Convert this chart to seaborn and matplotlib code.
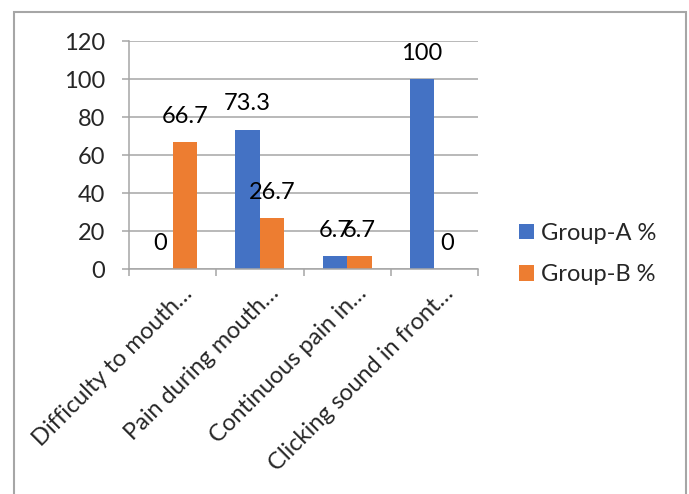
import matplotlib
matplotlib.use("Agg")
import matplotlib.pyplot as plt
import matplotlib.transforms as mtransforms
from matplotlib.patches import Rectangle
import seaborn as sns
import pandas as pd

categories = ["Difficulty to mouth\u2026", "Pain during mouth\u2026",
              "Continuous pain in\u2026", "Clicking sound in front\u2026"]
series_names = ["Group-A %", "Group-B %"]
group_a = [0, 73.3, 6.7, 100]
group_b = [66.7, 26.7, 6.7, 0]
y_ticks = [0, 20, 40, 60, 80, 100, 120]
colors = ["#4472C4", "#ED7D31"]

df = pd.DataFrame({
    "category": categories * 2,
    "value": group_a + group_b,
    "series": [series_names[0]] * 4 + [series_names[1]] * 4,
})

sns.set_style("white")
plt.rcParams["font.family"] = ["Lato", "DejaVu Sans"]
FS = 17
grid_c = "#A6A6A6"

W, H = 689, 494
fig = plt.figure(figsize=(W / 100, H / 100), dpi=100)
ax = fig.add_axes([129 / W, 1 - 269 / H, (478 - 129) / W, (269 - 41) / H])

sns.barplot(data=df, x="category", y="value", hue="series", order=categories,
            hue_order=series_names, palette=colors, width=0.563, gap=0,
            saturation=1, ax=ax, legend=True, linewidth=0)

ax.set_xlim(-0.5, 3.5)
ax.set_ylim(0, 120)
ax.set_yticks(y_ticks)
ax.set_yticklabels([str(t) for t in y_ticks], fontsize=FS)
ax.yaxis.grid(True, color=grid_c, linewidth=1.1)
ax.set_axisbelow(True)
ax.set_xlabel("")
ax.set_ylabel("")

for s in ["top", "right"]:
    ax.spines[s].set_visible(False)
for s in ["left", "bottom"]:
    ax.spines[s].set_color(grid_c)
    ax.spines[s].set_linewidth(1.1)

ax.tick_params(axis="y", length=5, width=1.1, color=grid_c, pad=12, left=True)
ax.set_xticks(range(len(categories)))
ax.set_xticks([-0.5, 0.5, 1.5, 2.5, 3.5], minor=True)
ax.tick_params(axis="x", which="minor", length=5, width=1.1, color=grid_c, bottom=True)
ax.tick_params(axis="x", which="major", length=0, pad=15)
offset = mtransforms.ScaledTranslation(16 / 100, 0, fig.dpi_scale_trans)
ax.set_xticklabels(categories, fontsize=FS, rotation=45, ha="right",
                   va="center", rotation_mode="anchor")
for lab in ax.get_xticklabels():
    lab.set_transform(lab.get_transform() + offset)

for cont in ax.containers:
    ax.bar_label(cont, labels=[f"{v:g}" for v in cont.datavalues],
                 padding=11, fontsize=FS, color="#000000")

handles, labels = ax.get_legend_handles_labels()
ax.legend_.remove()
fig.legend(handles, labels, loc="center left",
           bbox_to_anchor=(519 / W, 1 - 254 / H), frameon=False,
           fontsize=FS, handlelength=0.64, handleheight=0.64,
           handletextpad=0.3, labelspacing=0.85, borderpad=0,
           borderaxespad=0)

fig.patches.append(Rectangle((14 / W, -0.05), (686 - 14) / W, 1.05 - 12 / H,
                             transform=fig.transFigure, fill=False,
                             edgecolor="#A6A6A6", linewidth=1.5))

fig.savefig("out.png", dpi=100)
